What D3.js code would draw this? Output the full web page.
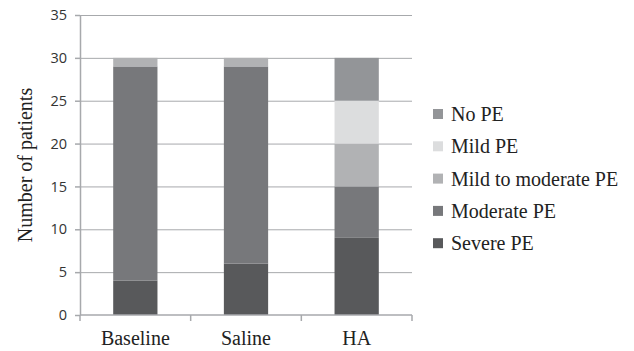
<!DOCTYPE html>
<html>
<head>
<meta charset="utf-8">
<script src="https://cdn.jsdelivr.net/npm/d3@7"></script>
<style>
  body { margin: 0; background: #fff; }
</style>
</head>
<body>
<div id="chart"></div>
<script>
// data
var groups = ["Baseline", "Saline", "HA"]
var severities = ["Severe PE", "Moderate PE", "Mild to moderate PE", "Mild PE", "No PE"]
var severe = [4, 6, 9]
var moderate = [25, 23, 6]
var mildToModerate = [1, 1, 5]
var mild = [0, 0, 5]
var noPE = [0, 0, 5]
var yTicks = [0, 5, 10, 15, 20, 25, 30, 35]
var colors = ["#58595b", "#77787b", "#b1b2b4", "#dcddde", "#939598"]
var legendOrder = ["No PE", "Mild PE", "Mild to moderate PE", "Moderate PE", "Severe PE"]

var rows = groups.map(function(g, i) {
  return {
    group: g,
    "Severe PE": severe[i],
    "Moderate PE": moderate[i],
    "Mild to moderate PE": mildToModerate[i],
    "Mild PE": mild[i],
    "No PE": noPE[i]
  }
})

var width = 634, height = 351
var margin = {top: 15, left: 80, right: 222, bottom: 36}

var svg = d3.select("#chart").append("svg")
  .attr("width", width)
  .attr("height", height)

var g = svg.append("g")
  .attr("transform", "translate(" + margin.left + "," + margin.top + ")")

var w = width - margin.left - margin.right
var h = height - margin.top - margin.bottom

var x = d3.scaleBand().domain(groups).range([0, w]).padding(0)
var y = d3.scaleLinear().domain([0, 35]).range([h, 0])
var color = d3.scaleOrdinal().domain(severities).range(colors)

// gridlines
g.append("g")
  .selectAll("line")
  .data(yTicks.slice(1))
  .enter().append("line")
  .attr("x1", 0).attr("x2", w)
  .attr("y1", function(d) { return y(d) + 0.5 })
  .attr("y2", function(d) { return y(d) + 0.5 })
  .attr("stroke", "#a7a9ac")
  .attr("stroke-width", 1)

// bars
var stack = d3.stack().keys(severities)(rows)
var barW = x.bandwidth() * 0.4
g.append("g")
  .selectAll("g")
  .data(stack)
  .enter().append("g")
  .attr("fill", function(d) { return color(d.key) })
  .selectAll("rect")
  .data(function(d) { return d })
  .enter().append("rect")
  .attr("x", function(d) { return x(d.data.group) + (x.bandwidth() - barW) / 2 })
  .attr("y", function(d) { return y(d[1]) })
  .attr("width", barW)
  .attr("height", function(d) { return y(d[0]) - y(d[1]) })

// y axis
var yAxis = g.append("g")
  .call(d3.axisLeft(y).tickValues(yTicks).tickSize(5).tickSizeOuter(0).tickPadding(8))
yAxis.selectAll("line, path").attr("stroke", "#a7a9ac").attr("stroke-width", 1.5)
yAxis.selectAll("text")
  .attr("font-family", "Open Sans, sans-serif")
  .attr("font-size", 14.5)
  .attr("fill", "#333")

// x axis (ticks at band boundaries)
var xAxisG = g.append("g").attr("transform", "translate(0," + h + ")")
xAxisG.append("line")
  .attr("x1", 0).attr("x2", w)
  .attr("stroke", "#a7a9ac").attr("stroke-width", 1.5)
xAxisG.selectAll(".tk")
  .data(groups.map(function(d) { return x(d) }).concat([w]))
  .enter().append("line")
  .attr("x1", function(d) { return d }).attr("x2", function(d) { return d })
  .attr("y1", 0).attr("y2", 6)
  .attr("stroke", "#a7a9ac").attr("stroke-width", 1.5)
xAxisG.selectAll("text")
  .data(groups)
  .enter().append("text")
  .attr("x", function(d) { return x(d) + x.bandwidth() / 2 })
  .attr("y", 30)
  .attr("text-anchor", "middle")
  .attr("font-family", "Liberation Serif, serif")
  .attr("font-size", 20)
  .attr("fill", "#222")
  .text(function(d) { return d })

// y label
svg.append("text")
  .attr("transform", "translate(32," + (margin.top + h / 2) + ") rotate(-90)")
  .attr("text-anchor", "middle")
  .attr("font-family", "Liberation Serif, serif")
  .attr("font-size", 20)
  .attr("fill", "#222")
  .text("Number of patients")

// legend
var legend = svg.append("g").attr("transform", "translate(433,114)")
var item = legend.selectAll("g")
  .data(legendOrder)
  .enter().append("g")
  .attr("transform", function(d, i) { return "translate(0," + (i * 32.3) + ")" })
item.append("rect")
  .attr("x", 0).attr("y", -5).attr("width", 10).attr("height", 10)
  .attr("fill", function(d) { return color(d) })
item.append("text")
  .attr("x", 18).attr("y", 7)
  .attr("font-family", "Liberation Serif, serif")
  .attr("font-size", 20)
  .attr("fill", "#222")
  .text(function(d) { return d })
</script>
</body>
</html>
